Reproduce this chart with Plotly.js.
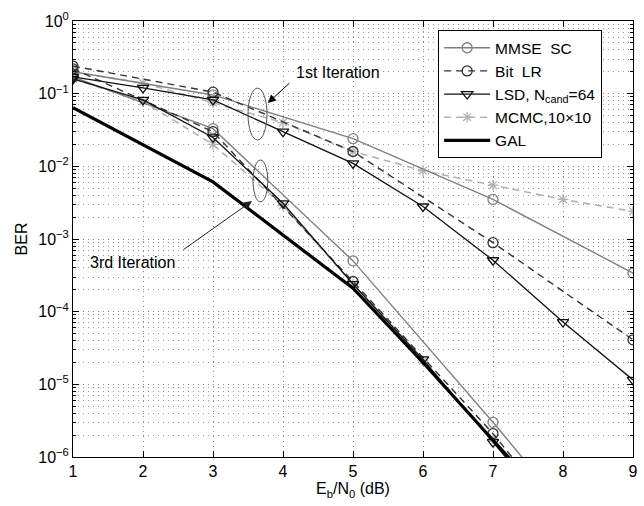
<!DOCTYPE html>
<html>
<head>
<meta charset="utf-8">
<script src="https://cdn.plot.ly/plotly-3.0.1.min.js"></script>
<style>html,body{margin:0;padding:0;background:#fff;}#chart{width:644px;height:506px;}</style>
</head>
<body>
<div id="chart"></div>
<script>
// ---- data ----
const ebn0Odd = [1, 3, 5, 7, 9];
const ebn0All = [1, 2, 3, 4, 5, 6, 7, 8, 9];
const ebn0Odd3 = [1, 3, 5, 7, 8];
const ebn0All3 = [1, 2, 3, 4, 5, 6, 7, 8];
const ebn0Gal = [1, 3, 5, 6, 7, 8];

// 1st iteration
const mmse1 = [0.20, 0.096, 0.024, 0.0035, 3.4e-4];
const bitlr1 = [0.24, 0.105, 0.016, 8.9e-4, 4.1e-5];
const lsd1 = [0.17, 0.12, 0.082, 0.030, 0.011, 0.0028, 5.1e-4, 7.2e-5, 1.15e-5];
const mcmc1 = [0.20, 0.14, 0.075, 0.040, 0.016, 0.0087, 0.0055, 0.0035, 0.0024];

// 3rd iteration
const mmse3 = [0.17, 0.033, 5.0e-4, 3.0e-6, 2.1e-7];
const bitlr3 = [0.22, 0.030, 2.6e-4, 2.1e-6, 1.35e-7];
const lsd3 = [0.16, 0.082, 0.025, 0.0031, 2.4e-4, 2.2e-5, 1.6e-6, 1.15e-7];
const mcmc3 = [0.16, 0.078, 0.020, 0.0029, 2.4e-4, 2.1e-5, 1.8e-6, 1.3e-7];

// GAL
const gal = [0.064, 0.0061, 2.1e-4, 2.0e-5, 1.7e-6, 1.5e-7];

const seriesNames = ['MMSE  SC', 'Bit  LR', 'LSD, N<sub>cand</sub>=64', 'MCMC,10×10', 'GAL'];
const xTickVals = [1, 2, 3, 4, 5, 6, 7, 8, 9];
const yTickVals = [1e-6, 1e-5, 1e-4, 1e-3, 1e-2, 1e-1, 1];
const yTickText = ['10<sup>−6</sup>', '10<sup>−5</sup>', '10<sup>−4</sup>', '10<sup>−3</sup>', '10<sup>−2</sup>', '10<sup>−1</sup>', '10<sup>0</sup>'];

// ---- styles ----
const FONT = '"Liberation Sans", Arial, Helvetica, sans-serif';
const cMMSE = '#808080', cBit = '#333333', cLSD = '#111111', cMCMC = '#b3b3b3';

function mk(x, y, name, color, dash, width, symbol, msize, show, rank, group) {
  const t = {
    x: x, y: y, type: 'scatter', mode: symbol ? 'lines+markers' : 'lines',
    name: name, legendgroup: group, showlegend: show, legendrank: rank,
    line: {color: color, width: width, dash: dash},
    cliponaxis: true
  };
  if (symbol) t.marker = {symbol: symbol, size: msize, color: color, line: {color: color, width: 1.3}};
  return t;
}

const traces = [
  mk(ebn0All, mcmc1, seriesNames[3], cMCMC, '7px,5px', 1.6, 'asterisk-open', 9, true, 4, 'mcmc'),
  mk(ebn0All3, mcmc3, seriesNames[3], cMCMC, '7px,5px', 1.6, 'asterisk-open', 9, false, 4, 'mcmc'),
  mk(ebn0Odd, mmse1, seriesNames[0], cMMSE, 'solid', 1.4, 'circle-open', 10, true, 1, 'mmse'),
  mk(ebn0Odd3, mmse3, seriesNames[0], cMMSE, 'solid', 1.4, 'circle-open', 10, false, 1, 'mmse'),
  mk(ebn0Odd, bitlr1, seriesNames[1], cBit, '7px,5px', 1.4, 'circle-open', 10, true, 2, 'bit'),
  mk(ebn0Odd3, bitlr3, seriesNames[1], cBit, '7px,5px', 1.4, 'circle-open', 10, false, 2, 'bit'),
  mk(ebn0All, lsd1, seriesNames[2], cLSD, 'solid', 1.3, 'triangle-down-open', 10, true, 3, 'lsd'),
  mk(ebn0All3, lsd3, seriesNames[2], cLSD, 'solid', 1.3, 'triangle-down-open', 10, false, 3, 'lsd'),
  mk(ebn0Gal, gal, seriesNames[4], '#000000', 'solid', 3.2, null, 0, true, 5, 'gal')
];

// minor tick positions for log axis (2..9 in each decade)
const minorVals = [];
for (let e = -6; e < 0; e++) for (let m = 2; m <= 9; m++) minorVals.push(m * Math.pow(10, e));

const gridDash = '1px,4px';
const layout = {
  width: 644, height: 506,
  margin: {l: 73, r: 11, t: 21, b: 49},
  paper_bgcolor: '#ffffff', plot_bgcolor: '#ffffff',
  font: {family: FONT, size: 16, color: '#000'},
  showlegend: true,
  legend: {
    x: 0.652, y: 0.979, xanchor: 'left', yanchor: 'top',
    bgcolor: '#ffffff', bordercolor: '#000', borderwidth: 1,
    font: {family: FONT, size: 15.5, color: '#000'},
    itemwidth: 46, tracegroupgap: 0, traceorder: 'normal'
  },
  xaxis: {
    type: 'linear', range: [1, 9], tickvals: xTickVals,
    ticks: 'inside', ticklen: 6, tickcolor: '#000', mirror: 'ticks',
    showline: true, linecolor: '#000', linewidth: 1,
    showgrid: true, gridcolor: '#8c8c8c', griddash: gridDash, gridwidth: 1,
    zeroline: false,
    tickfont: {family: FONT, size: 16, color: '#000'},
    title: {text: 'E<sub>b</sub>/N<sub>0</sub> (dB)', font: {family: FONT, size: 16, color: '#000'}, standoff: 3}
  },
  yaxis: {
    type: 'log', range: [-6, 0], tickvals: yTickVals, ticktext: yTickText,
    ticks: 'inside', ticklen: 6, tickcolor: '#000', mirror: 'ticks',
    showline: true, linecolor: '#000', linewidth: 1,
    showgrid: true, gridcolor: '#8c8c8c', griddash: gridDash, gridwidth: 1,
    zeroline: false,
    tickfont: {family: FONT, size: 16, color: '#000'},
    minor: {tickvals: minorVals, ticks: 'inside', ticklen: 3, tickcolor: '#000',
            showgrid: true, gridcolor: '#9a9a9a', griddash: gridDash, gridwidth: 1},
    title: {text: 'BER', font: {family: FONT, size: 16, color: '#000'}, standoff: 6}
  },
  shapes: [
    {type: 'circle', xref: 'paper', yref: 'paper', x0: 0.3125, x1: 0.3464, y0: 0.727, y1: 0.846,
     line: {color: '#555', width: 1}},
    {type: 'circle', xref: 'paper', yref: 'paper', x0: 0.3214, x1: 0.348, y0: 0.585, y1: 0.681,
     line: {color: '#555', width: 1}}
  ],
  annotations: [
    {xref: 'paper', yref: 'paper', x: 0.473, y: 0.883, xanchor: 'center', yanchor: 'middle',
     text: '1st Iteration', showarrow: false, font: {family: FONT, size: 16, color: '#000'}},
    {xref: 'paper', yref: 'paper', x: 0.348, y: 0.812, text: ' ', showarrow: true,
     ax: 25, ay: -23, arrowhead: 2, arrowsize: 1.6, arrowwidth: 1, arrowcolor: '#000', standoff: 0},
    {xref: 'paper', yref: 'paper', x: 0.107, y: 0.447, xanchor: 'center', yanchor: 'middle',
     text: '3rd Iteration', showarrow: false, font: {family: FONT, size: 16, color: '#000'}},
    {xref: 'paper', yref: 'paper', x: 0.3196, y: 0.587, text: ' ', showarrow: true,
     ax: -72, ay: 51, arrowhead: 2, arrowsize: 1.6, arrowwidth: 1, arrowcolor: '#222', standoff: 0}
  ]
};

Plotly.newPlot('chart', traces, layout, {displayModeBar: false, staticPlot: true});
</script>
</body>
</html>
